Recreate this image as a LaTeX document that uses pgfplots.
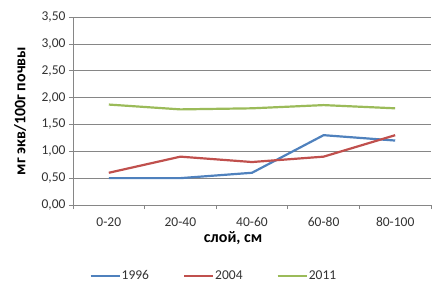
\documentclass[border=0pt]{standalone}
\usepackage{fontspec}
\setmainfont{Carlito}
\usepackage{pgfplots}
\pgfplotsset{compat=1.18}
\definecolor{xblue}{HTML}{4F81BD}
\definecolor{xred}{HTML}{C0504D}
\definecolor{xgreen}{HTML}{9BBB59}
\definecolor{xgrid}{HTML}{868686}
\begin{document}
\begin{tikzpicture}
\useasboundingbox (-73bp,-94bp) rectangle (371bp,205bp);
\begin{axis}[
  at={(0,0)}, anchor=south west,
  scale only axis, width=358bp, height=188bp,
  xmin=-0.5, xmax=4.5, ymin=0, ymax=3.5,
  xtick={0,1,2,3,4},
  xticklabels={0-20,20-40,40-60,60-80,80-100},
  major x tick style={draw=none},
  minor xtick={-0.5,0.5,1.5,2.5,3.5,4.5},
  ytick={0,0.5,1,1.5,2,2.5,3,3.5},
  tick align=outside,
  major tick length=4bp, minor tick length=4bp,
  tick style={xgrid, line width=0.6bp},
  axis x line*=bottom, axis y line*=left,
  axis line style={-, draw=xgrid, line width=0.6bp},
  ymajorgrids, grid style={xgrid, line width=0.6bp},
  /pgf/number format/.cd, fixed, fixed zerofill, precision=2, use comma, assume math mode=true,
  /pgfplots/.cd,
  ticklabel style={font=\fontsize{13.5bp}{16bp}\selectfont, text=black!80},
  xticklabel style={yshift=-5bp},
  xlabel={\bfseries слой, см},
  ylabel={\bfseries мг экв/100г почвы},
  label style={font=\fontsize{16bp}{19bp}\selectfont},
  xlabel style={at={(axis description cs:0.447,-0.1755)}, anchor=center},
  ylabel style={at={(axis description cs:-0.148,0.50)}, anchor=center},
  legend style={draw=none, at={(axis description cs:0.392,-0.378)}, anchor=center,
    legend columns=3, font=\fontsize{13.5bp}{16bp}\selectfont,
    nodes={inner sep=1bp, text=black!80},
    /tikz/every even column/.append style={column sep=33bp}},
  legend image code/.code={\draw[#1] (0bp,0bp) -- (29bp,0bp);},
  every axis plot/.append style={line width=2.2bp},
]
\addplot[xblue] coordinates {(0,0.5)(1,0.5)(2,0.6)(3,1.3)(4,1.2)};
\addplot[xred] coordinates {(0,0.6)(1,0.9)(2,0.8)(3,0.9)(4,1.3)};
\addplot[xgreen] coordinates {(0,1.87)(1,1.78)(2,1.80)(3,1.86)(4,1.80)};
\legend{1996,2004,2011}
\end{axis}
\end{tikzpicture}
\end{document}
